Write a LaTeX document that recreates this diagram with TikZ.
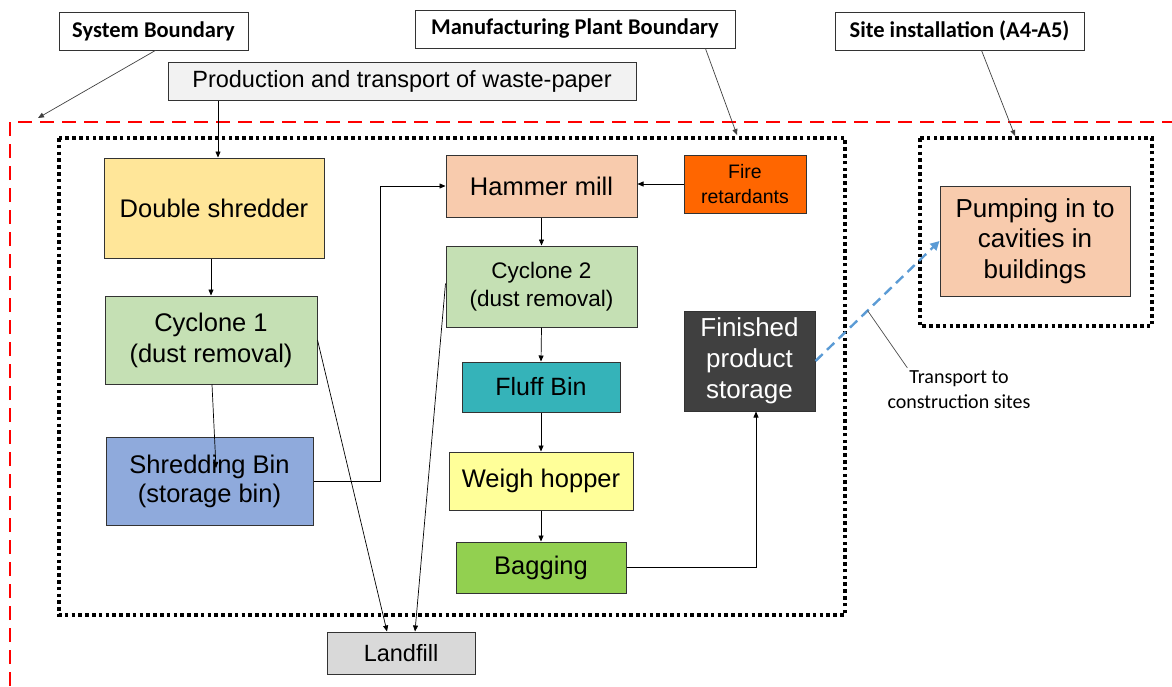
\documentclass[tikz,border=0pt]{standalone}
\usepackage{fontspec}
\setmainfont{Liberation Sans}
\newfontfamily\calibri{Carlito}
\usetikzlibrary{arrows.meta}
\usepackage{xcolor}

\definecolor{prodgray}{HTML}{F2F2F2}
\definecolor{shredyellow}{HTML}{FFE699}
\definecolor{cycgreen}{HTML}{C5E0B4}
\definecolor{binblue}{HTML}{8FAADC}
\definecolor{peach}{HTML}{F8CBAD}
\definecolor{fireorange}{HTML}{FF6600}
\definecolor{fluffteal}{HTML}{35B3B9}
\definecolor{hopperyellow}{HTML}{FFFF99}
\definecolor{baggreen}{HTML}{92D050}
\definecolor{storegray}{HTML}{404040}
\definecolor{landgray}{HTML}{D9D9D9}
\definecolor{transblue}{HTML}{5B9BD5}

\newcommand{\fsz}[2]{\fontsize{#1}{#2}\selectfont}

\begin{document}
\begin{tikzpicture}[x=1pt,y=-1pt,
    box/.style={draw=black!80, line width=1pt, inner sep=0pt, align=center},
    tag/.style={draw=black!80, line width=0.8pt, fill=white, inner sep=0pt, font=\calibri\bfseries\fsz{22.5}{26}},
    flow/.style={-{Triangle[length=6pt,width=5pt]}, line width=0.7pt},
    lead/.style={-{Triangle[length=6pt,width=5pt]}, line width=0.7pt, black!75},
    bound/.style={line width=3.6pt, dash pattern=on 3.6pt off 3.2pt}]
        \useasboundingbox (0,0) rectangle (1172,686);

        % boundaries
        \draw[red, line width=2.8pt, dash pattern=on 14pt off 8pt] (10,686) -- (10,122) -- (1172,122);
        \draw[bound] (59,138) rectangle (845,615);
        \draw[bound] (920,138) rectangle (1152,326);

        % labels of the boundaries
        \node[tag, minimum width=189pt, minimum height=38pt] (sysb) at (153.5,31) {System Boundary};
        \node[tag, minimum width=320pt, minimum height=38pt] (mfgb) at (575,29) {Manufacturing Plant Boundary};
        \node[tag, minimum width=249pt, minimum height=38pt] (siteb) at (959.5,31) {Site installation (A4-A5)};
        \coordinate (systip) at (38,118);
        \coordinate (mfgtip) at (737,135);
        \coordinate (sitetip) at (1015,136);

        % process steps
        \node[box, fill=prodgray, minimum width=468pt, minimum height=38pt, font=\fsz{23.5}{27}] (prod) at (402,81) {Production and transport of waste-paper};
        \node[box, fill=shredyellow, minimum width=220pt, minimum height=100pt, font=\fsz{25.5}{30}] (shred) at (214,208) {Double shredder};
        \node[box, fill=cycgreen, minimum width=212pt, minimum height=88pt, font=\fsz{25.5}{31}] (cyc1) at (211,340) {Cyclone 1\\(dust removal)};
        \node[box, fill=binblue, minimum width=207pt, minimum height=88pt, font=\fsz{25.5}{29}] (sbin) at (209.5,481) {Shredding Bin\\(storage bin)};
        \node[box, fill=peach, minimum width=191pt, minimum height=62pt, font=\fsz{25.5}{30}] (hammer) at (541.5,186) {Hammer mill};
        \node[box, fill=fireorange, minimum width=122pt, minimum height=58pt, font=\fsz{19.5}{25}] (fire) at (745,184) {Fire\\retardants};
        \node[box, fill=cycgreen, minimum width=191pt, minimum height=81pt, font=\fsz{22.5}{28}] (cyc2) at (541.5,286.5) {Cyclone 2\\(dust removal)};
        \node[box, fill=fluffteal, minimum width=158pt, minimum height=50pt, font=\fsz{25}{30}] (fluff) at (541,387) {Fluff Bin};
        \node[box, fill=hopperyellow, minimum width=184pt, minimum height=58pt, font=\fsz{25.5}{30}] (weigh) at (541,481) {Weigh hopper};
        \node[box, fill=baggreen, minimum width=170pt, minimum height=51pt, font=\fsz{25.5}{30}] (bag) at (541,567.5) {Bagging};
        \node[box, fill=storegray, text=white, minimum width=131pt, minimum height=100pt, font=\fsz{26}{31}] (fin) at (749.5,361) {Finished\\product\\storage};
        \node[box, fill=peach, minimum width=190pt, minimum height=110pt, font=\fsz{26}{30.5}] (pump) at (1035,241) {Pumping in to\\cavities in\\buildings};
        \node[box, fill=landgray, minimum width=148pt, minimum height=42pt, font=\fsz{23.5}{27}] (land) at (401,653) {Landfill};
        \node[align=center, inner sep=0pt, font=\calibri\fsz{20}{25}] (trans) at (959,390) {Transport to\\construction sites};

        % leaders
        \draw[lead] ([xshift=2pt]sysb.south) -- (systip);
        \draw[lead] ([xshift=-30pt]mfgb.south east) -- (mfgtip);
        \draw[lead] ([xshift=22pt]siteb.south) -- (sitetip);

        % material flow
        \draw[flow] ([xshift=4pt]shred.north |- prod.south) -- ([xshift=4pt]shred.north);
        \draw[flow] (shred.south -| cyc1.north) -- (cyc1.north);
        \draw[flow] ([xshift=1pt]cyc1.south) -- ([shift={(6.5pt,13pt)}]sbin.center);
        \draw[flow] (sbin.east) -- ++(67pt,0pt) |- (hammer.west);
        \draw[flow] (fire.west) -- (fire.west -| hammer.east);
        \draw[flow] (hammer.south) -- (cyc2.north);
        \draw[flow] (cyc2.south) -- (fluff.north);
        \draw[flow] (fluff.south) -- (weigh.north);
        \draw[flow] (weigh.south) -- (bag.north);
        \draw[flow] (bag.east) -| ([xshift=6.5pt]fin.south);
        \draw[flow] (cyc1.east) -- ([xshift=-14pt]land.north);
        \draw[flow] ([yshift=3pt]cyc2.west) -- ([xshift=14pt]land.north);

        % transport to site
        \draw[transblue, line width=2.4pt, dash pattern=on 10pt off 6pt, -{Triangle[length=9pt,width=9pt]}] (fin.east) -- (pump.west) coordinate[pos=0.42] (trpt);
        \draw[black!70, line width=0.7pt] (trpt) -- ([xshift=20pt, yshift=3pt]trans.north west);
    \end{tikzpicture}
\end{document}
